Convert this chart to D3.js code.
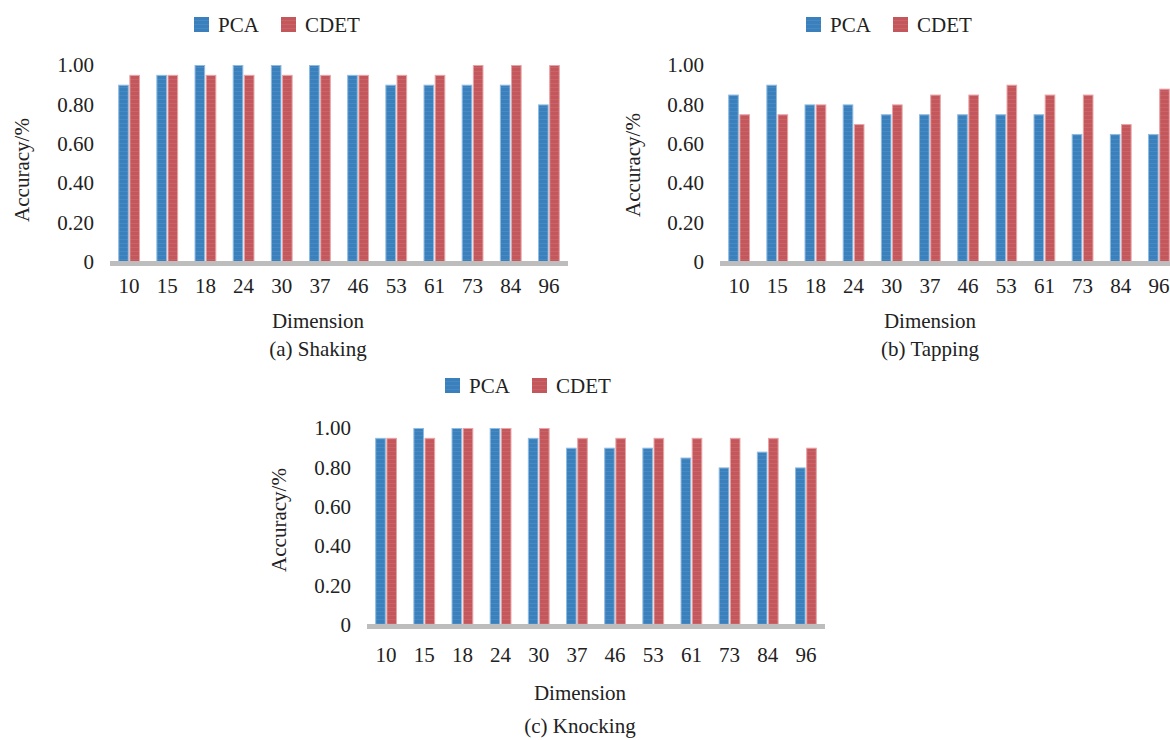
<!DOCTYPE html>
<html>
<head>
<meta charset="utf-8">
<script src="https://cdn.jsdelivr.net/npm/d3@7"></script>
<style>
  html, body { margin: 0; padding: 0; background: #fff; }
  svg text { font-family: "Liberation Serif", "Times New Roman", serif; fill: #222; }
</style>
</head>
<body>
<script>
// data
var dims = ["10", "15", "18", "24", "30", "37", "46", "53", "61", "73", "84", "96"];
var seriesNames = ["PCA", "CDET"];
var shakingPCA  = [0.90, 0.95, 1.00, 1.00, 1.00, 1.00, 0.95, 0.90, 0.90, 0.90, 0.90, 0.80];
var shakingCDET = [0.95, 0.95, 0.95, 0.95, 0.95, 0.95, 0.95, 0.95, 0.95, 1.00, 1.00, 1.00];
var tappingPCA  = [0.85, 0.90, 0.80, 0.80, 0.75, 0.75, 0.75, 0.75, 0.75, 0.65, 0.65, 0.65];
var tappingCDET = [0.75, 0.75, 0.80, 0.70, 0.80, 0.85, 0.85, 0.90, 0.85, 0.85, 0.70, 0.88];
var knockingPCA  = [0.95, 1.00, 1.00, 1.00, 0.95, 0.90, 0.90, 0.90, 0.85, 0.80, 0.88, 0.80];
var knockingCDET = [0.95, 0.95, 1.00, 1.00, 1.00, 0.95, 0.95, 0.95, 0.95, 0.95, 0.95, 0.90];
var yTicks = [0, 0.2, 0.4, 0.6, 0.8, 1.0];
var yTickLabels = ["0", "0.20", "0.40", "0.60", "0.80", "1.00"];

var colors = { PCA: "#3a80bd", CDET: "#c4575c" };
var edge = { PCA: "#8fbbe0", CDET: "#e8a3a6" };

var width = 1170, height = 740;
var svg = d3.select("body").append("svg")
  .attr("width", width)
  .attr("height", height);

// faint horizontal stripes like the original bitmap fill
var defs = svg.append("defs");
seriesNames.forEach(function(s) {
  var p = defs.append("pattern")
    .attr("id", "fill-" + s)
    .attr("patternUnits", "userSpaceOnUse")
    .attr("width", 4).attr("height", 4);
  p.append("rect").attr("width", 4).attr("height", 4).attr("fill", colors[s]);
  p.append("rect").attr("y", 3).attr("width", 4).attr("height", 1)
    .attr("fill", "#fff").attr("opacity", 0.07);
});

// layout of each of the three panels
var panels = [
  { pca: shakingPCA, cdet: shakingCDET, caption: "(a) Shaking",
    x0: 110, x1: 568, yTop: 65, yBot: 262, legendX: 194, legendY: 17,
    tickPad: 16, titleX: 318, dimY: 328, capY: 356, yTitleX: 22, yTitleY: 170 },
  { pca: tappingPCA, cdet: tappingCDET, caption: "(b) Tapping",
    x0: 720, x1: 1178, yTop: 65, yBot: 262, legendX: 806, legendY: 17,
    tickPad: 16, titleX: 930, dimY: 328, capY: 356, yTitleX: 633, yTitleY: 165 },
  { pca: knockingPCA, cdet: knockingCDET, caption: "(c) Knocking",
    x0: 367, x1: 825, yTop: 428, yBot: 625, legendX: 445, legendY: 378,
    tickPad: 22, titleX: 580, dimY: 700, capY: 733, yTitleX: 279, yTitleY: 520 }
];

panels.forEach(function(p) {
  var g = svg.append("g");

  var x = d3.scaleBand().domain(dims).range([p.x0, p.x1])
    .paddingInner(0.4).paddingOuter(0.2);
  var xs = d3.scaleBand().domain(seriesNames).range([0, x.bandwidth()]).padding(0.05);
  var y = d3.scaleLinear().domain([0, 1]).range([p.yBot, p.yTop]);

  var rows = dims.map(function(d, i) {
    return { dim: d, PCA: p.pca[i], CDET: p.cdet[i] };
  });

  // bars
  var groups = g.selectAll("g.grp").data(rows).enter().append("g")
    .attr("class", "grp")
    .attr("transform", function(d) { return "translate(" + x(d.dim) + ",0)"; });
  groups.selectAll("rect").data(function(d) {
    return seriesNames.map(function(s) { return { key: s, value: d[s] }; });
  }).enter().append("rect")
    .attr("x", function(d) { return xs(d.key) + 0.5; })
    .attr("y", function(d) { return y(d.value) + 0.5; })
    .attr("width", xs.bandwidth() - 1)
    .attr("height", function(d) { return y(0) - y(d.value); })
    .attr("fill", function(d) { return "url(#fill-" + d.key + ")"; })
    .attr("stroke", function(d) { return edge[d.key]; })
    .attr("stroke-width", 1);

  // grey baseline
  g.append("rect")
    .attr("x", p.x0).attr("y", y(0) - 1)
    .attr("width", p.x1 - p.x0).attr("height", 5)
    .attr("fill", "#bdbdbd");

  // y axis (labels only)
  var yAxis = g.append("g")
    .attr("transform", "translate(" + p.x0 + ",0)")
    .call(d3.axisLeft(y).tickValues(yTicks).tickSize(0).tickPadding(16)
      .tickFormat(function(d, i) { return yTickLabels[i]; }));
  yAxis.select(".domain").remove();
  yAxis.selectAll("text").style("font-size", "21px")
    .style("font-family", "Liberation Serif").attr("fill", "#222");

  // x axis (labels only)
  var xAxis = g.append("g")
    .attr("transform", "translate(0," + p.yBot + ")")
    .call(d3.axisBottom(x).tickSize(0).tickPadding(p.tickPad));
  xAxis.select(".domain").remove();
  xAxis.selectAll("text").style("font-size", "21px")
    .style("font-family", "Liberation Serif").attr("fill", "#222");

  // titles
  g.append("text")
    .attr("transform", "translate(" + p.yTitleX + "," + p.yTitleY + ") rotate(-90)")
    .attr("text-anchor", "middle").attr("dy", "0.35em")
    .style("font-size", "21px")
    .text("Accuracy/%");
  g.append("text")
    .attr("x", p.titleX).attr("y", p.dimY)
    .attr("text-anchor", "middle")
    .style("font-size", "21px")
    .text("Dimension");
  g.append("text")
    .attr("x", p.titleX).attr("y", p.capY)
    .attr("text-anchor", "middle")
    .style("font-size", "21px")
    .text(p.caption);

  // legend
  var lg = g.append("g").attr("transform", "translate(" + p.legendX + "," + p.legendY + ")");
  seriesNames.forEach(function(s, i) {
    var off = i * 87;
    lg.append("rect")
      .attr("x", off).attr("y", 0)
      .attr("width", 15).attr("height", 15)
      .attr("fill", "url(#fill-" + s + ")");
    lg.append("text")
      .attr("x", off + 24).attr("y", 15)
      .style("font-size", "21px")
      .text(s);
  });
});
</script>
</body>
</html>
